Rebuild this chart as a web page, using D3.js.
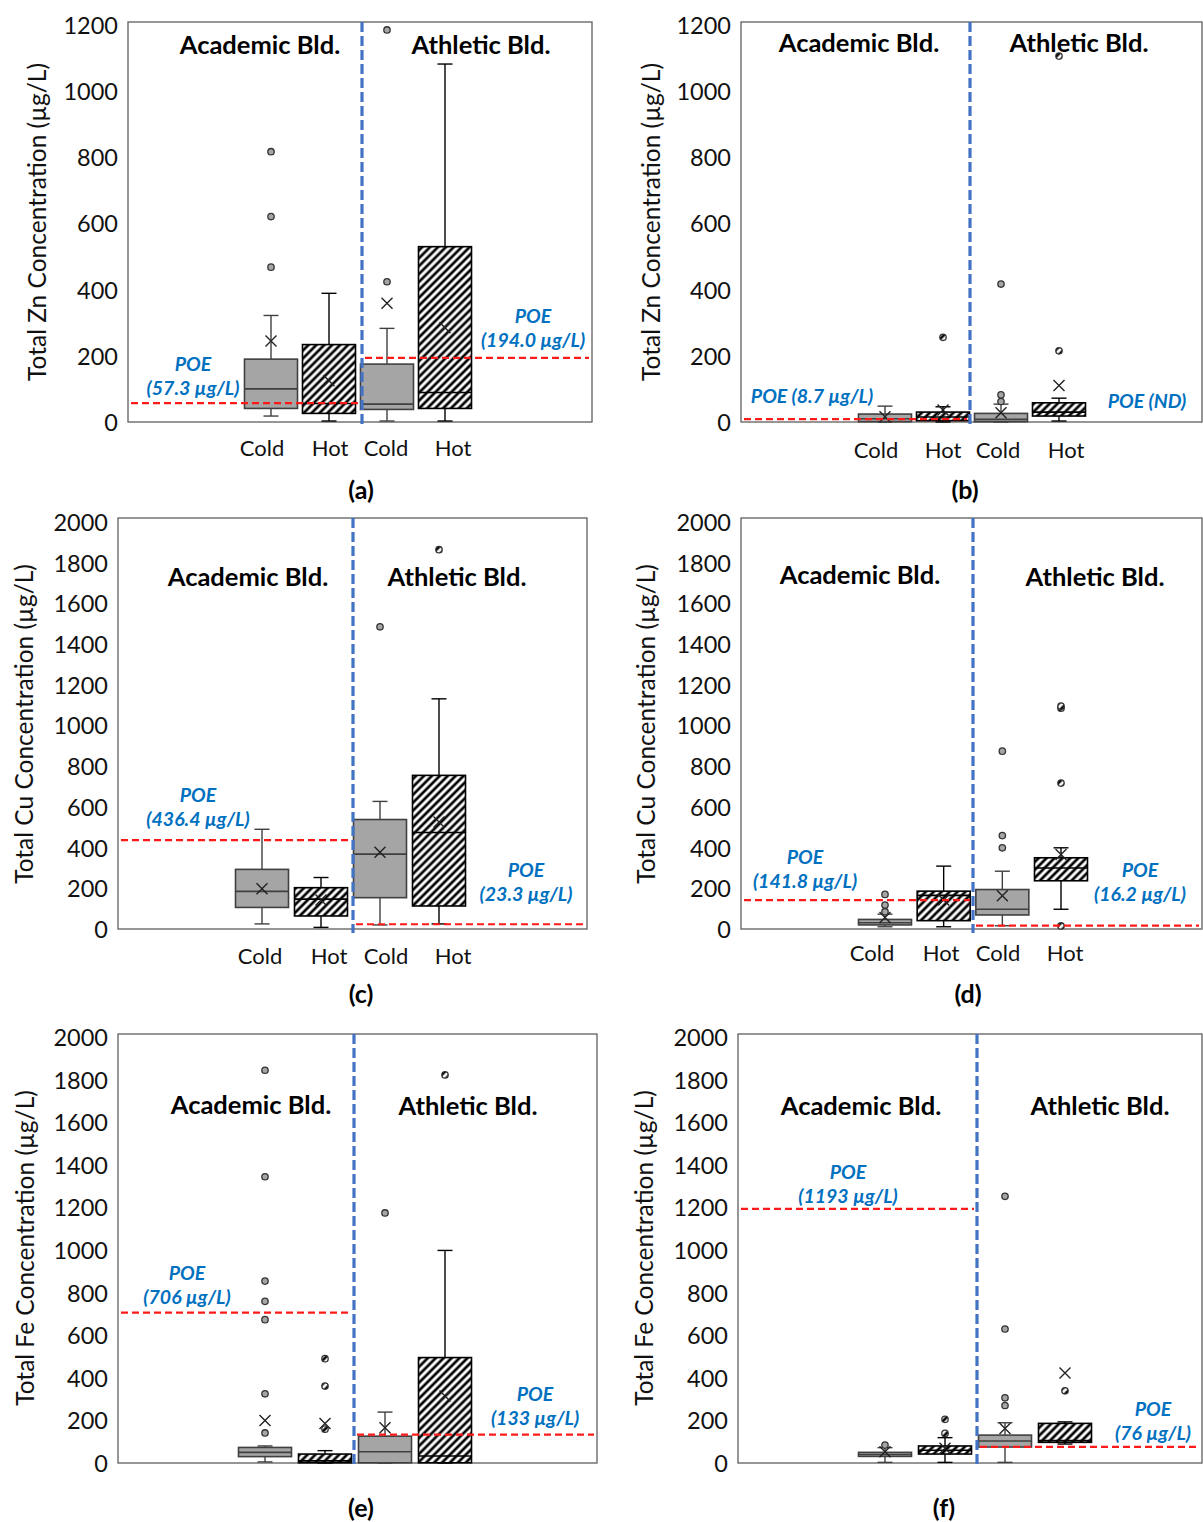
<!DOCTYPE html>
<html><head><meta charset="utf-8">
<script src="https://cdn.jsdelivr.net/npm/d3@7"></script>
<style>body{margin:0;background:#fff} svg{display:block}</style>
</head><body>
<script>
// ---------------- DATA ----------------
const categories = ["Cold", "Hot", "Cold", "Hot"];
const seriesType = ["cold", "hot", "cold", "hot"];
const groupNames = ["Academic Bld.", "Athletic Bld."];
const ticksZn = [0, 200, 400, 600, 800, 1000, 1200];
const ticksCuFe = [0, 200, 400, 600, 800, 1000, 1200, 1400, 1600, 1800, 2000];
const titleZn = "Total Zn Concentration (µg/L)";
const titleCu = "Total Cu Concentration (µg/L)";
const titleFe = "Total Fe Concentration (µg/L)";
const panelNames = ["(a)", "(b)", "(c)", "(d)", "(e)", "(f)"];

// box stats per category: [lower whisker, Q1, median, Q3, upper whisker]
const boxA = [[18, 41, 100, 190, 322], [3, 26, 56, 234, 389], [3, 38, 54, 175, 283], [3, 41, 89, 530, 1082]];
const meanA = [245, 125, 359, 285];
const outA = [[468, 621, 817], [], [424, 1185], []];
const poeA = [57.3, 194.0];
const poeTextA = [["POE", "(57.3 µg/L)"], ["POE", "(194.0 µg/L)"]];

const boxB = [[0, 1, 10, 24, 48], [0, 4, 15, 30, 46], [0, 1, 8, 26, 54], [3, 18, 30, 58, 72]];
const meanB = [16, 36, 28, 110];
const outB = [[], [256], [62, 82, 417], [215, 1106]];
const poeB = [8.7, null];
const poeTextB = [["POE (8.7 µg/L)"], ["POE (ND)"]];

const boxC = [[25, 106, 185, 293, 490], [8, 64, 147, 203, 253], [20, 154, 368, 538, 627], [25, 113, 474, 755, 1131]];
const meanC = [198, 142, 377, 526];
const outC = [[], [], [1485], [1864]];
const poeC = [436.4, 23.3];
const poeTextC = [["POE", "(436.4 µg/L)"], ["POE", "(23.3 µg/L)"]];

const boxD = [[11, 20, 31, 47, 73], [11, 41, 165, 186, 309], [16, 69, 97, 194, 284], [97, 237, 300, 350, 399]];
const meanD = [57, 142, 163, 366];
const outD = [[85, 118, 170], [], [399, 459, 874], [15, 717, 1085, 1095]];
const poeD = [141.8, 16.2];
const poeTextD = [["POE", "(141.8 µg/L)"], ["POE", "(16.2 µg/L)"]];

const boxE = [[5, 30, 50, 73, 80], [0, 1, 10, 42, 58], [0, 1, 53, 126, 239], [0, 1, 33, 495, 998]];
const meanE = [200, 186, 165, 314];
const outE = [[141, 325, 673, 759, 854, 1344, 1844], [159, 361, 490], [1174], [1822]];
const poeE = [706, 133];
const poeTextE = [["POE", "(706 µg/L)"], ["POE", "(133 µg/L)"]];

const boxF = [[3, 31, 40, 50, 72], [3, 42, 60, 80, 119], [3, 75, 103, 131, 189], [89, 97, 105, 186, 193]];
const meanF = [53, 69, 162, 423];
const outF = [[84], [139, 205], [270, 306, 629, 1252], [339]];
const poeF = [1193, 76];
const poeTextF = [["POE", "(1193 µg/L)"], ["POE", "(76 µg/L)"]];

// ---------------- LAYOUT ----------------
const layouts = [
  {frame:[128,22,592,422], yZero:422, yTop:25, yMax:1200, cx:[271,445], div:362,
   catX:[262,330,386,453], catY:447, grp:[[260,44],[481,44]], tX:36, tY:222, pl:[361,489],
   poePos:[[193,363],[533,315]]},
  {frame:[741,22,1202,422], yZero:422, yTop:25, yMax:1200, cx:[885,1059], div:970,
   catX:[876,943,998,1066], catY:449, grp:[[859,42],[1079,42]], tX:650, tY:222, pl:[965,489],
   poePos:[[812,395],[1147,400]]},
  {frame:[118,518,587,929], yZero:929, yTop:522, yMax:2000, cx:[262,439], div:353,
   catX:[260,329,386,453], catY:955, grp:[[248,576],[457,576]], tX:23, tY:724, pl:[361,993],
   poePos:[[198,794],[526,869]]},
  {frame:[741,518,1202,929], yZero:929, yTop:522, yMax:2000, cx:[885,1061], div:973,
   catX:[872,941,998,1065], catY:952, grp:[[860,574],[1095,576]], tX:645, tY:724, pl:[968,993],
   poePos:[[805,856],[1140,869]]},
  {frame:[118,1034,597,1463], yZero:1463, yTop:1037, yMax:2000, cx:[265,445], div:354,
   catX:null, catY:null, grp:[[251,1104],[468,1105]], tX:24, tY:1248, pl:[361,1507],
   poePos:[[187,1272],[535,1393]]},
  {frame:[738,1034,1202,1463], yZero:1463, yTop:1037, yMax:2000, cx:[885,1065], div:977,
   catX:null, catY:null, grp:[[861,1105],[1100,1105]], tX:643, tY:1248, pl:[944,1507],
   poePos:[[848,1171],[1153,1408]]}
];

const panels = [
  {box:boxA, mean:meanA, out:outA, poe:poeA, poeText:poeTextA, ticks:ticksZn, title:titleZn},
  {box:boxB, mean:meanB, out:outB, poe:poeB, poeText:poeTextB, ticks:ticksZn, title:titleZn},
  {box:boxC, mean:meanC, out:outC, poe:poeC, poeText:poeTextC, ticks:ticksCuFe, title:titleCu},
  {box:boxD, mean:meanD, out:outD, poe:poeD, poeText:poeTextD, ticks:ticksCuFe, title:titleCu},
  {box:boxE, mean:meanE, out:outE, poe:poeE, poeText:poeTextE, ticks:ticksCuFe, title:titleFe},
  {box:boxF, mean:meanF, out:outF, poe:poeF, poeText:poeTextF, ticks:ticksCuFe, title:titleFe}
];

// ---------------- DRAW ----------------
const FONT = "Lato, 'Open Sans', sans-serif";
const svg = d3.select("body").append("svg").attr("width", 1203).attr("height", 1522)
  .style("font-family", FONT);

const defs = svg.append("defs");
const pat = defs.append("pattern").attr("id", "hatch").attr("patternUnits", "userSpaceOnUse")
  .attr("width", 5.6).attr("height", 5.6).attr("patternTransform", "rotate(45)");
pat.append("rect").attr("width", 5.6).attr("height", 5.6).attr("fill", "#fff");
pat.append("line").attr("x1", 2.8).attr("y1", -1).attr("x2", 2.8).attr("y2", 7)
  .attr("stroke", "#000").attr("stroke-width", 2.7);

const BW = 53, CAP = 15;

panels.forEach((p, pi) => {
  const L = layouts[pi];
  const g = svg.append("g");
  const [fx0, fy0, fx1, fy1] = L.frame;
  const y = d3.scaleLinear().domain([0, L.yMax]).range([L.yZero, L.yTop]);
  const x = d3.scalePoint().domain(d3.range(categories.length)).range(L.cx);

  // frame
  g.append("rect").attr("x", fx0).attr("y", fy0).attr("width", fx1 - fx0).attr("height", fy1 - fy0)
    .attr("fill", "none").attr("stroke", "#5f5f5f").attr("stroke-width", 1.3);

  // y axis labels
  const ax = g.append("g").attr("transform", `translate(${fx0},0)`)
    .call(d3.axisLeft(y).tickValues(p.ticks).tickSize(0).tickPadding(10).tickFormat(d3.format("d")));
  ax.select(".domain").remove();
  ax.selectAll("text").attr("font-size", 23.5).attr("font-family", FONT).attr("fill", "#111")
    .attr("dy", "0.36em");

  // y title
  g.append("text").attr("transform", `translate(${L.tX},${L.tY}) rotate(-90)`)
    .attr("text-anchor", "middle").attr("dominant-baseline", "central")
    .attr("font-size", 24.5).attr("fill", "#111").text(p.title);

  // boxes
  p.box.forEach((b, i) => {
    const [lo, q1, med, q3, hi] = b;
    const cx = x(i);
    const isHot = seriesType[i] === "hot";
    const sc = isHot ? "#000" : "#404040";
    const bg = g.append("g");
    bg.append("line").attr("x1", cx).attr("x2", cx).attr("y1", y(hi)).attr("y2", y(q3))
      .attr("stroke", sc).attr("stroke-width", 1.4);
    bg.append("line").attr("x1", cx).attr("x2", cx).attr("y1", y(q1)).attr("y2", y(lo))
      .attr("stroke", sc).attr("stroke-width", 1.4);
    [hi, lo].forEach(v => bg.append("line").attr("x1", cx - CAP / 2).attr("x2", cx + CAP / 2)
      .attr("y1", y(v)).attr("y2", y(v)).attr("stroke", sc).attr("stroke-width", 1.4));
    bg.append("rect").attr("x", cx - BW / 2).attr("y", y(q3)).attr("width", BW)
      .attr("height", Math.max(1, y(q1) - y(q3)))
      .attr("fill", isHot ? "url(#hatch)" : "#a5a5a5").attr("stroke", sc).attr("stroke-width", 1.6);
    bg.append("line").attr("x1", cx - BW / 2).attr("x2", cx + BW / 2).attr("y1", y(med)).attr("y2", y(med))
      .attr("stroke", sc).attr("stroke-width", 1.6);
    // mean X
    const my = y(p.mean[i]), s = 5.5;
    bg.append("path").attr("d", `M${cx - s},${my - s}L${cx + s},${my + s}M${cx - s},${my + s}L${cx + s},${my - s}`)
      .attr("stroke", "#222").attr("stroke-width", 1.4).attr("fill", "none");
    // outliers
    bg.selectAll("circle.o").data(p.out[i]).enter().append("circle")
      .attr("cx", cx).attr("cy", d => y(d)).attr("r", 3.2)
      .attr("fill", isHot ? "url(#hatch)" : "#a5a5a5").attr("stroke", "#333").attr("stroke-width", 1.3);
  });

  // POE lines
  const segs = [[fx0, L.div], [L.div, fx1]];
  p.poe.forEach((v, k) => {
    if (v == null) return;
    g.append("line").attr("x1", segs[k][0] + 3).attr("x2", segs[k][1] - 3).attr("y1", y(v)).attr("y2", y(v))
      .attr("stroke", "#ff1a1a").attr("stroke-width", 2.2).attr("stroke-dasharray", "7,4");
  });

  // divider
  g.append("line").attr("x1", L.div).attr("x2", L.div).attr("y1", fy0).attr("y2", fy1 + 4)
    .attr("stroke", "#4472c4").attr("stroke-width", 3.2).attr("stroke-dasharray", "10,4");

  // POE texts
  p.poeText.forEach((lines, k) => {
    const [tx, ty] = L.poePos[k];
    lines.forEach((ln, j) => {
      g.append("text").attr("x", tx).attr("y", ty + j * 24).attr("text-anchor", "middle")
        .attr("dominant-baseline", "central").attr("font-size", 19.5).attr("font-weight", "bold")
        .attr("font-style", "italic").attr("fill", "#0070c0").text(ln);
    });
  });

  // group labels
  groupNames.forEach((n, k) => {
    g.append("text").attr("x", L.grp[k][0]).attr("y", L.grp[k][1]).attr("text-anchor", "middle")
      .attr("dominant-baseline", "central").attr("font-size", 25.5).attr("font-weight", "bold")
      .attr("fill", "#000").text(n);
  });

  // category labels
  if (L.catX) {
    categories.forEach((c, i) => {
      g.append("text").attr("x", L.catX[i]).attr("y", L.catY).attr("text-anchor", "middle")
        .attr("dominant-baseline", "central").attr("font-size", 22).attr("fill", "#111").text(c);
    });
  }

  // panel label
  g.append("text").attr("x", L.pl[0]).attr("y", L.pl[1]).attr("text-anchor", "middle")
    .attr("dominant-baseline", "central").attr("font-size", 25).attr("font-weight", "bold")
    .attr("fill", "#000").text(panelNames[pi]);
});
</script>
</body></html>
